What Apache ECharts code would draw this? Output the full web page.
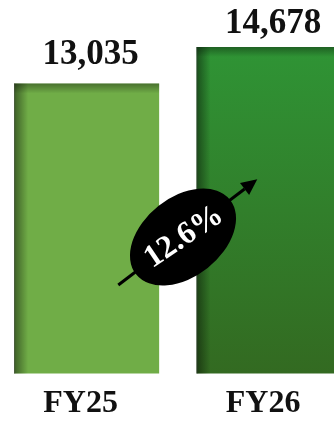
<!DOCTYPE html>
<html>
<head>
<meta charset="utf-8">
<script src="https://cdn.jsdelivr.net/npm/echarts@6/dist/echarts.min.js"></script>
<style>
  html, body { margin: 0; padding: 0; background: #ffffff; }
  #chart { width: 334px; height: 421px; }
</style>
</head>
<body>
<div id="chart"></div>
<script>
// Fiscal years and their values
const years = ['FY25', 'FY26'];
const revenue = [13035, 14678];

// Growth between the two years, shown in the badge
const growthPct = ((revenue[1] / revenue[0] - 1) * 100).toFixed(1) + '%';

const SERIF = '"Liberation Serif", "DejaVu Serif", serif';
const BAR_W = 145;

const barFills = [
  '#70ad47',
  new echarts.graphic.LinearGradient(0, 0, 0, 1, [
    { offset: 0, color: '#2f9435' },
    { offset: 1, color: '#336a21' }
  ])
];
const labelDistance = [11, 5];

const chart = echarts.init(document.getElementById('chart'), null, { renderer: 'canvas' });

// Inner shading along the top and left edges of each bar
function renderShade(params, api) {
  const cat = api.value(0);
  const top = api.coord([cat, api.value(1)]);
  const base = api.coord([cat, 0]);
  const x0 = top[0] - BAR_W / 2;
  const h = base[1] - top[1];
  return {
    type: 'group',
    children: [
      {
        type: 'rect',
        shape: { x: x0, y: top[1], width: 14, height: h },
        style: {
          fill: new echarts.graphic.LinearGradient(0, 0, 1, 0, [
            { offset: 0, color: 'rgba(0,0,0,0.45)' },
            { offset: 1, color: 'rgba(0,0,0,0)' }
          ])
        }
      },
      {
        type: 'rect',
        shape: { x: x0, y: top[1], width: BAR_W, height: 10 },
        style: {
          fill: new echarts.graphic.LinearGradient(0, 0, 0, 1, [
            { offset: 0, color: 'rgba(0,0,0,0.35)' },
            { offset: 1, color: 'rgba(0,0,0,0)' }
          ])
        }
      },
      {
        type: 'rect',
        shape: { x: x0, y: top[1], width: 1, height: h },
        style: { fill: 'rgba(60,60,60,0.45)' }
      }
    ]
  };
}

// Growth arrow geometry (tail -> tip)
const arrowTail = [118.3, 285];
const arrowTip = [257.3, 179.3];
const headLen = 16, headHalf = 7.5;
const dx = arrowTip[0] - arrowTail[0], dy = arrowTip[1] - arrowTail[1];
const len = Math.hypot(dx, dy);
const ux = dx / len, uy = dy / len;
const nx = -uy, ny = ux;
const headBase = [arrowTip[0] - headLen * ux, arrowTip[1] - headLen * uy];

const option = {
  backgroundColor: '#ffffff',
  animation: false,
  grid: {
    left: -4.55, width: 364.8, top: 17.5, bottom: 47.5,
    containLabel: false,
    outerBoundsMode: 'none'
  },
  xAxis: {
    type: 'category',
    data: years,
    axisLine: { show: false },
    axisTick: { show: false },
    axisLabel: {
      margin: 14,
      color: '#111111',
      fontFamily: SERIF,
      fontWeight: 'bold',
      fontSize: 32,
      padding: [0, 12, 0, 0]
    }
  },
  yAxis: {
    type: 'value',
    min: 0,
    max: 16000,
    show: false,
    splitLine: { show: false }
  },
  series: [
    {
      type: 'bar',
      barWidth: BAR_W,
      data: revenue.map((v, i) => ({
        value: v,
        itemStyle: { color: barFills[i] },
        label: { distance: labelDistance[i] }
      })),
      label: {
        show: true,
        position: 'top',
        offset: [4, 0],
        color: '#111111',
        fontFamily: SERIF,
        fontWeight: 'bold',
        fontSize: 35,
        formatter: p => p.value.toLocaleString('en-US')
      },
      z: 2
    },
    {
      type: 'custom',
      renderItem: renderShade,
      data: revenue.map((v, i) => [i, v]),
      silent: true,
      z: 3
    }
  ],
  graphic: [
    {
      type: 'line',
      shape: { x1: arrowTail[0], y1: arrowTail[1], x2: headBase[0], y2: headBase[1] },
      style: { stroke: '#000000', lineWidth: 3 },
      z: 10
    },
    {
      type: 'polygon',
      shape: {
        points: [
          arrowTip,
          [headBase[0] + headHalf * nx, headBase[1] + headHalf * ny],
          [headBase[0] - headHalf * nx, headBase[1] - headHalf * ny]
        ]
      },
      style: { fill: '#000000' },
      z: 10
    },
    {
      type: 'circle',
      x: 183,
      y: 237,
      shape: { cx: 0, cy: 0, r: 60 },
      scaleX: 1,
      scaleY: 0.66,
      rotation: 38.5 * Math.PI / 180,
      style: { fill: '#000000' },
      z: 11
    },
    {
      type: 'text',
      x: 184,
      y: 237,
      rotation: 34 * Math.PI / 180,
      style: {
        text: growthPct,
        fill: '#ffffff',
        font: '600 32px ' + SERIF,
        align: 'center',
        verticalAlign: 'middle'
      },
      z: 12
    }
  ]
};

chart.setOption(option);
</script>
</body>
</html>
